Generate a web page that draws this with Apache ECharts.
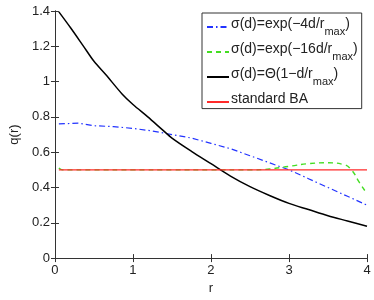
<!DOCTYPE html>
<html><head><meta charset="utf-8">
<script src="https://cdn.jsdelivr.net/npm/echarts@6/dist/echarts.min.js"></script>
<style>html,body{margin:0;padding:0;background:#fff}#c{width:374px;height:300px}</style>
</head><body><div id="c"></div>
<script>
const rBlack = [0.05,0.2,0.36,0.5,0.65,0.86,1.0,1.19,1.375,1.5,1.75,2.0,2.25,2.5,2.75,3.0,3.25,3.5,3.75,4.0];
const qBlack = [1.395,1.305,1.204,1.115,1.04,0.93,0.87,0.80,0.728,0.68,0.605,0.535,0.465,0.405,0.355,0.31,0.275,0.24,0.21,0.18];
const rBlue = [0.05,0.3,0.5,0.75,1.0,1.25,1.5,1.75,2.0,2.25,2.5,2.75,3.0,3.25,3.5,3.75,4.0];
const qBlue = [0.76,0.765,0.75,0.745,0.735,0.72,0.70,0.68,0.65,0.62,0.58,0.54,0.50,0.45,0.40,0.35,0.30];
const rGreen = [0.05,0.1,0.5,1.0,1.5,2.0,2.5,2.75,3.0,3.25,3.5,3.7,3.8,3.9,4.0];
const qGreen = [0.51,0.50,0.50,0.50,0.50,0.50,0.50,0.505,0.52,0.535,0.54,0.53,0.50,0.43,0.365];
const rRed = [0.05,4.0];
const qRed = [0.5,0.5];
const xTicks = [0,1,2,3,4];
const yTicks = [0,0.2,0.4,0.6,0.8,1,1.2,1.4];
const names = ['s1','s2','s3','s4'];
const legendLabels = {
  s1: '{a|σ(d)=exp(−4d/r}{s|max}{a|)}',
  s2: '{a|σ(d)=exp(−16d/r}{s|max}{a|)}',
  s3: '{a|σ(d)=Θ(1−d/r}{s|max}{a|)}',
  s4: '{a|standard BA}'
};
const zip = (a,b)=>a.map((v,i)=>[v,b[i]]);
const FONT = 'Liberation Sans';
const chart = echarts.init(document.getElementById('c'));
const axCommon = {
  axisLine:{show:true,lineStyle:{color:'#333',width:1}},
  axisTick:{show:true,inside:true,length:4,lineStyle:{color:'#333'}},
  splitLine:{show:false}
};
chart.setOption({
  animation:false,
  textStyle:{fontFamily:FONT},
  grid:{left:44,right:7,top:11,bottom:35},
  xAxis:[
    Object.assign({type:'value',min:0,max:4,interval:1,position:'bottom',
      name:'r',nameLocation:'middle',nameGap:17,nameTextStyle:{fontSize:13,color:'#222',fontFamily:FONT},
      axisLabel:{fontSize:13,color:'#222',margin:6,fontFamily:FONT,formatter:v=>xTicks.includes(v)?String(v):''}},axCommon),
    Object.assign({type:'value',min:0,max:4,interval:1,position:'top',axisLabel:{show:false}},axCommon)
  ],
  yAxis:[
    Object.assign({type:'value',min:0,max:1.4,interval:0.2,position:'left',
      name:'q(r)',nameLocation:'middle',nameGap:28,nameTextStyle:{fontSize:13,color:'#222',fontFamily:FONT},
      axisLabel:{fontSize:13,color:'#222',margin:5,fontFamily:FONT,formatter:v=>{const t=yTicks.find(k=>Math.abs(k-v)<1e-9);return t===undefined?'':String(t);}}},axCommon),
    Object.assign({type:'value',min:0,max:1.4,interval:0.2,position:'right',axisLabel:{show:false}},axCommon)
  ],
  legend:{
    orient:'vertical',left:202,top:13,
    backgroundColor:'#fff',borderColor:'#333',borderWidth:1,
    padding:[4,4,1,4],itemGap:5,itemWidth:22,itemHeight:14,
    itemStyle:{opacity:0},
    data:names,
    formatter:n=>legendLabels[n],
    textStyle:{fontFamily:FONT,color:'#222',padding:[0,0,0,-3],
      rich:{a:{fontSize:14,fontFamily:FONT,color:'#222',lineHeight:20,verticalAlign:'top'},
            s:{fontSize:11,fontFamily:FONT,color:'#222',lineHeight:20,verticalAlign:'bottom',padding:[9,0,0,0]}}}
  },
  series:[
    {name:'s1',type:'line',data:zip(rBlue,qBlue),symbol:'none',smooth:false,lineStyle:{color:'#2233ff',width:1.2,type:[6,3,1.5,3]}},
    {name:'s2',type:'line',data:zip(rGreen,qGreen),symbol:'none',smooth:true,lineStyle:{color:'#44dd22',width:1.4,type:[5,4]}},
    {name:'s3',type:'line',data:zip(rBlack,qBlack),symbol:'none',smooth:0.3,lineStyle:{color:'#000',width:1.5}},
    {name:'s4',type:'line',data:zip(rRed,qRed),symbol:'none',lineStyle:{color:'#ff2a2a',width:1.2}}
  ]
});
</script></body></html>
